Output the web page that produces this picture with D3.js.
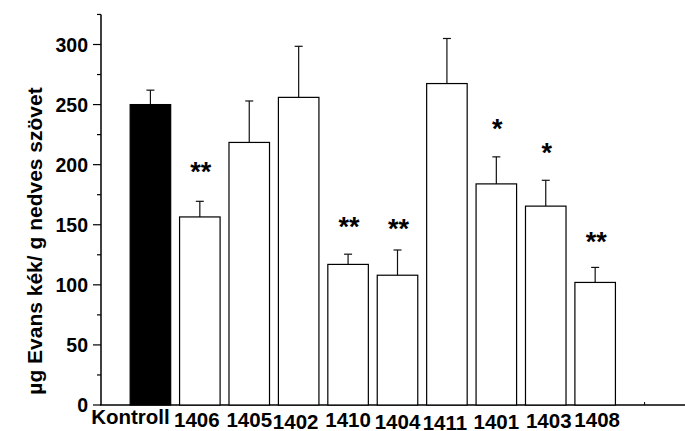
<!DOCTYPE html>
<html>
<head>
<meta charset="utf-8">
<script src="https://cdn.jsdelivr.net/npm/d3@7"></script>
<style>
  html, body { margin: 0; padding: 0; background: #fff; }
  svg { display: block; }
  text { font-family: "Liberation Sans", Arial, sans-serif; font-weight: bold; fill: #000; }
</style>
</head>
<body>
<svg id="chart" width="685" height="431"></svg>
<script>
// Evans blue extravasation per group (mean + upper SEM)
const categories = ["Kontroll", "1406", "1405", "1402", "1410", "1404", "1411", "1401", "1403", "1408"];
const means      = [250, 156.5, 218.5, 256, 117, 108, 267.5, 184, 165.5, 102];
const errors     = [12, 13, 34.5, 42.5, 8.5, 21, 37.5, 22.5, 21.5, 12.5];
const stars      = ["", "**", "", "", "**", "**", "", "*", "*", "**"];
const yTicks     = [0, 50, 100, 150, 200, 250, 300];
// label offsets below the axis (staggered layout)
const labelDy    = [19, 22, 22, 24, 22, 24, 25, 24, 23, 22];
const labelDx    = [-20, -3, 0, -3, 0, 0, -2, 0, 3, 2];
// distance from the top of the error bar to the star baseline
const starGap    = [0, 20, 0, 0, 18, 12, 0, 19, 18, 16];

const svg = d3.select("#chart");
const x0 = 101, y0 = 405;

const x = d3.scaleLinear().domain([0, 12]).range([x0, 694]);
const y = d3.scaleLinear().domain([0, 300]).range([y0, 44.5]);
const barW = x(0.82) - x(0);

// y axis
svg.append("line").attr("x1", x0).attr("x2", x0).attr("y1", y(325)).attr("y2", y0)
  .attr("stroke", "#000").attr("stroke-width", 1.5);
const minor = d3.range(0, 326, 25);
svg.selectAll(".ytick").data(minor).join("line")
  .attr("x1", d => d % 50 === 0 ? x0 - 8 : x0 - 4).attr("x2", x0)
  .attr("y1", d => y(d)).attr("y2", d => y(d))
  .attr("stroke", "#000").attr("stroke-width", 1.2);
svg.selectAll(".ylab").data(yTicks).join("text")
  .attr("x", x0 - 13).attr("y", d => y(d)).attr("dy", "0.36em")
  .attr("text-anchor", "end").style("font-size", "19.5px")
  .text(d => d);

// y axis title
svg.append("text")
  .attr("transform", `translate(42,241) rotate(-90)`)
  .attr("text-anchor", "middle").style("font-size", "21px")
  .text("µg Evans kék/ g nedves szövet");

// x axis
svg.append("line").attr("x1", x0 - 1).attr("x2", x(12)).attr("y1", y0).attr("y2", y0)
  .attr("stroke", "#000").attr("stroke-width", 1.5);
svg.selectAll(".xtick").data(d3.range(1, 12)).join("line")
  .attr("x1", d => x(d)).attr("x2", d => x(d))
  .attr("y1", y0 - 3).attr("y2", y0)
  .attr("stroke", "#000").attr("stroke-width", 1);

// bars, error bars, significance stars and category labels
const g = svg.append("g");
categories.forEach((c, i) => {
  const cx = x(i + 1);
  const top = y(means[i]);
  const etop = y(means[i] + errors[i]);
  g.append("line").attr("x1", cx).attr("x2", cx).attr("y1", top).attr("y2", etop)
    .attr("stroke", "#111").attr("stroke-width", 1.2);
  g.append("line").attr("x1", cx - 4).attr("x2", cx + 4).attr("y1", etop).attr("y2", etop)
    .attr("stroke", "#111").attr("stroke-width", 1.2);
  g.append("rect")
    .attr("x", cx - barW / 2).attr("y", top)
    .attr("width", barW).attr("height", y0 - top)
    .attr("fill", i === 0 ? "#000" : "#fff")
    .attr("stroke", "#000").attr("stroke-width", 1.2);
  if (stars[i]) {
    g.append("text").attr("x", cx + 1).attr("y", etop - starGap[i])
      .attr("text-anchor", "middle").style("font-size", "27px")
      .text(stars[i]);
  }
  svg.append("text").attr("x", cx + labelDx[i]).attr("y", y0 + labelDy[i])
    .attr("text-anchor", "middle").style("font-size", "20.5px")
    .text(c);
});
</script>
</body>
</html>
